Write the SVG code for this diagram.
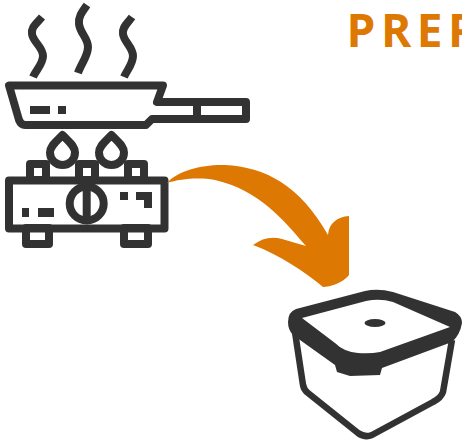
<svg xmlns="http://www.w3.org/2000/svg" width="462" height="442" viewBox="0 0 462 442">
<style>
.l{fill:none;stroke:#333;stroke-width:8;stroke-linejoin:round;stroke-linecap:butt}
.s{fill:#333}
.t{font-family:"Open Sans",sans-serif;font-weight:700;font-size:46px;fill:#dd7903}
.soft{filter:url(#soft)}
</style>
<defs><filter id="soft" x="-5%" y="-5%" width="110%" height="110%"><feGaussianBlur stdDeviation="0.45"/></filter></defs>
<rect width="462" height="442" fill="#fff"/>
<g id="title"><text class="t" x="346.500" y="46.500" letter-spacing="5.500">PREP</text></g>
<g id="pan" class="soft">
<path class="l" d="M42 17C36 24 31 27 32 34C33 42 43 47 43 56C43 64 36 70 33 77"/>
<path class="l" d="M87 5C82 12 78 17 79 24C80 33 88 38 88 47C88 56 81 64 78 73"/>
<path class="l" d="M132 17C127 24 122 27 123 34C124 42 133 47 133 56C133 64 127 70 124 77"/>
<path class="l" d="M9 85.500H163L157 102H246V119H152L146 125H25Q21 125 19 120Z"/>
<path class="l" d="M197 102V119"/>
<rect class="s" x="30" y="106" width="20" height="8"/>
<rect class="s" x="58" y="106" width="8" height="8"/>
</g>
<g id="stove" class="soft">
<path class="l" d="M62.500 135C56 142 50 146 50 152.500A12.500 12.500 0 0 0 75 152.500C75 146 69 142 62.500 135Z"/>
<path class="l" d="M111.500 135C105 142 99 146 99 152.500A12.500 12.500 0 0 0 124 152.500C124 146 118 142 111.500 135Z"/>
<rect class="l" x="30" y="164" width="16" height="16"/>
<rect class="l" x="79" y="164" width="16" height="16"/>
<rect class="l" x="128" y="164" width="16" height="16"/>
<rect class="l" x="26" y="228" width="23" height="16"/>
<rect class="l" x="124" y="228" width="24" height="16"/>
<rect class="l" x="9" y="180.500" width="155.500" height="48"/>
<circle class="l" cx="86.700" cy="203.500" r="17"/>
<rect class="s" x="82.700" y="186" width="8" height="35"/>
<rect class="s" x="22" y="208" width="7" height="9"/>
<rect class="s" x="38" y="208" width="16" height="9"/>
<rect class="s" x="120" y="192" width="8" height="8"/>
<path class="s" d="M136 192H152V208H144V200H136Z"/>
</g>
<g id="connectors">
<path fill="#dd7903" d="M167 183C178 170 205 164 225 165C265 167 300 185 328 235C329 223 337 217 349 216L349 275C343 283 330 287 323 287C305 272 280 255 253 245C262 238 272 236 282 239L306 246C285 222 260 190 215 180C198 177 180 179 167 183Z"/>
</g>
<g id="container" class="soft">
<path fill="none" stroke="#333" stroke-width="6.500" stroke-linejoin="round" d="M295 332L303 385Q304 390 308 393L358 433Q365 438 372 435L433 402Q441 398 443 392L452 340"/>
<path class="s" fill-rule="evenodd" d="M288 322Q288 312 296 309L365 291Q378 288 393 292L455 312Q462 316 462 323Q460 335 452 342L382 368L380 375L350 376L337 372L335 365L293 335Q288 330 288 322ZM302 318L335 343Q344 352 358 353Q370 354 380 352L450 327L393 302Q380 298 366 301Z"/>
<ellipse class="s" cx="375" cy="323" rx="10.500" ry="4"/>
</g>
</svg>
